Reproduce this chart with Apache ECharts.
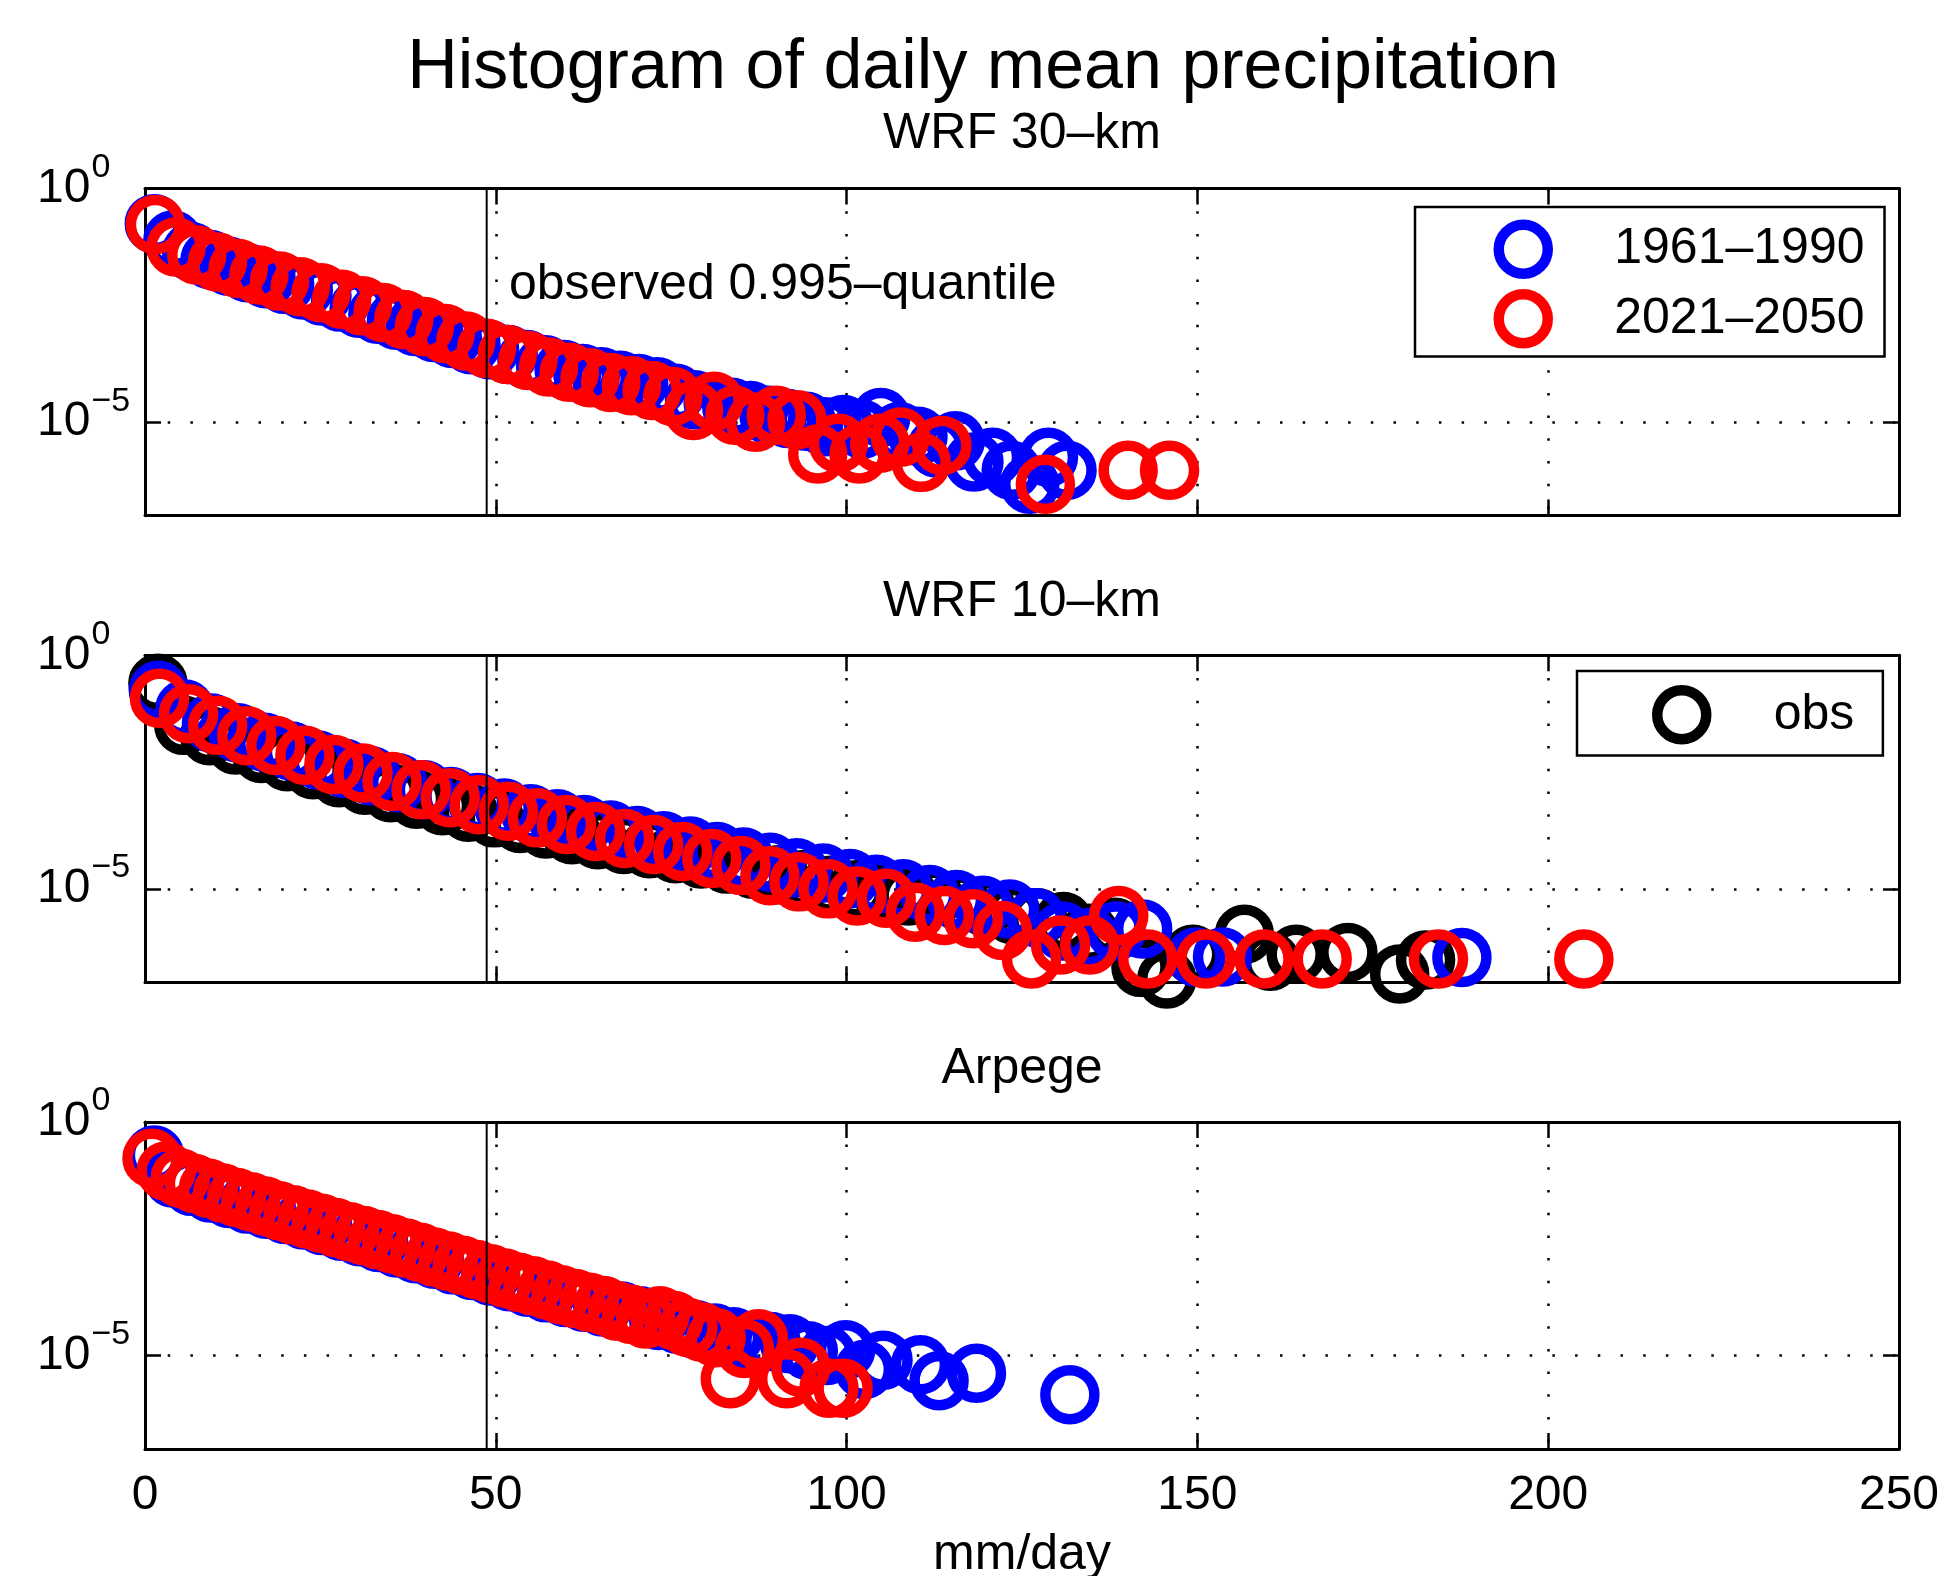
<!DOCTYPE html>
<html>
<head>
<meta charset="utf-8">
<script src="https://cdn.jsdelivr.net/npm/echarts@6/dist/echarts.min.js"></script>
<style>
html,body{margin:0;padding:0;background:#fff;}
#chart{width:1946px;height:1576px;}
</style>
</head>
<body>
<div id="chart"></div>
<script>
// ---------------- DATA ----------------
// x: bin centre (mm/day), second value: log10 of the relative frequency
const mainTitle = 'Histogram of daily mean precipitation';
const panelTitles = ['WRF 30–km', 'WRF 10–km', 'Arpege'];
const xTickValues = [0, 50, 100, 150, 200, 250];
const yTickExponents = [0, -5];
const yExponentRange = [0, -7];
const quantileLabel = 'observed 0.995–quantile';
const quantile = 48.7;
const nameHist = '1961–1990';
const nameFut = '2021–2050';
const nameObs = 'obs';
const xAxisName = 'mm/day';

const wrf30_1961 = [[1.33,-0.75],[3.98,-1.10],[6.64,-1.35],[9.29,-1.52],[11.95,-1.66],[14.60,-1.80],[17.26,-1.93],[19.91,-2.05],[22.57,-2.17],[25.22,-2.30],[27.88,-2.43],[30.53,-2.56],[33.19,-2.69],[35.84,-2.82],[38.50,-2.95],[41.15,-3.08],[43.81,-3.21],[46.46,-3.34],[49.12,-3.45],[51.77,-3.55],[54.43,-3.66],[57.08,-3.77],[59.74,-3.87],[62.39,-3.96],[65.05,-4.03],[67.70,-4.10],[70.36,-4.17],[73.01,-4.24],[75.67,-4.38],[78.32,-4.52],[80.98,-4.58],[83.63,-4.68],[86.29,-4.75],[88.94,-4.85],[91.60,-4.92],[94.25,-4.98],[96.91,-5.10],[99.56,-5.05],[102.22,-5.15],[104.87,-4.90],[107.53,-5.20],[110.18,-5.30],[112.84,-5.55],[115.49,-5.40],[118.15,-5.85],[120.80,-5.75],[123.46,-6.03],[126.11,-6.33],[128.77,-5.75],[131.42,-6.03]];
const wrf30_2021 = [[1.48,-0.77],[4.43,-1.25],[7.38,-1.42],[10.33,-1.57],[13.28,-1.71],[16.23,-1.85],[19.18,-1.98],[22.13,-2.10],[25.08,-2.23],[28.03,-2.37],[30.98,-2.51],[33.93,-2.65],[36.88,-2.80],[39.83,-2.95],[42.78,-3.10],[45.73,-3.26],[48.68,-3.42],[51.63,-3.55],[54.58,-3.68],[57.53,-3.82],[60.48,-3.93],[63.43,-4.05],[66.38,-4.15],[69.33,-4.22],[72.28,-4.32],[75.23,-4.45],[78.18,-4.75],[81.13,-4.55],[84.08,-4.85],[87.03,-5.00],[89.98,-4.85],[92.93,-4.95],[95.88,-5.68],[98.83,-5.45],[101.78,-5.68],[104.73,-5.45],[107.68,-5.32],[110.63,-5.86],[113.58,-5.50],[128.33,-6.33],[140.13,-6.03],[146.03,-6.03]];

const wrf10_obs = [[1.84,-0.60],[5.53,-1.50],[9.22,-1.72],[12.90,-1.92],[16.59,-2.10],[20.28,-2.28],[23.97,-2.45],[27.65,-2.62],[31.34,-2.78],[35.03,-2.94],[38.71,-3.08],[42.40,-3.22],[46.09,-3.36],[49.78,-3.48],[53.46,-3.60],[57.15,-3.72],[60.84,-3.84],[64.53,-3.95],[68.21,-4.05],[71.90,-4.14],[75.59,-4.25],[79.27,-4.36],[82.96,-4.47],[86.65,-4.58],[90.34,-4.70],[94.02,-4.80],[97.71,-4.92],[101.40,-5.02],[105.08,-5.10],[108.77,-5.15],[112.46,-5.18],[116.15,-5.28],[119.83,-5.40],[123.52,-5.55],[127.21,-5.62],[130.89,-5.70],[134.58,-5.95],[138.27,-5.82],[141.96,-6.68],[145.64,-6.93],[149.33,-6.40],[156.70,-5.97],[160.39,-6.55],[164.08,-6.40],[171.45,-6.36],[178.83,-6.82],[182.52,-6.52]];
const wrf10_1961 = [[1.90,-0.75],[5.69,-1.15],[9.48,-1.45],[13.27,-1.66],[17.06,-1.86],[20.86,-2.05],[24.65,-2.24],[28.44,-2.42],[32.23,-2.58],[36.02,-2.73],[39.82,-2.88],[43.61,-3.02],[47.40,-3.15],[51.19,-3.27],[54.98,-3.39],[58.78,-3.50],[62.57,-3.62],[66.36,-3.74],[70.15,-3.86],[73.94,-3.97],[77.74,-4.08],[81.53,-4.20],[85.32,-4.32],[89.11,-4.43],[92.90,-4.55],[96.70,-4.66],[100.49,-4.78],[104.28,-4.90],[108.07,-5.00],[111.86,-5.12],[115.66,-5.23],[119.45,-5.35],[123.24,-5.43],[127.03,-5.62],[130.82,-5.90],[134.62,-6.04],[138.41,-5.90],[142.20,-5.86],[149.78,-6.46],[153.58,-6.46],[187.70,-6.47]];
const wrf10_2021 = [[2.07,-0.92],[6.21,-1.25],[10.36,-1.50],[14.50,-1.72],[18.64,-1.93],[22.79,-2.14],[26.93,-2.34],[31.07,-2.52],[35.21,-2.70],[39.36,-2.88],[43.50,-3.05],[47.64,-3.20],[51.79,-3.34],[55.93,-3.48],[60.07,-3.62],[64.22,-3.77],[68.36,-3.92],[72.50,-4.05],[76.64,-4.20],[80.79,-4.35],[84.93,-4.50],[89.07,-4.72],[93.22,-4.85],[97.36,-5.00],[101.50,-5.15],[105.65,-5.20],[109.79,-5.50],[113.93,-5.57],[118.07,-5.64],[122.22,-5.89],[126.36,-6.50],[130.50,-6.20],[134.65,-6.20],[138.79,-5.57],[142.93,-6.50],[151.22,-6.50],[159.50,-6.50],[167.79,-6.50],[184.36,-6.50],[205.08,-6.50]];

const arpege_1961 = [[1.33,-0.71],[3.99,-1.20],[6.66,-1.38],[9.32,-1.52],[11.98,-1.64],[14.65,-1.76],[17.31,-1.87],[19.97,-1.98],[22.63,-2.10],[25.30,-2.22],[27.96,-2.34],[30.62,-2.46],[33.29,-2.58],[35.95,-2.70],[38.61,-2.82],[41.28,-2.94],[43.94,-3.06],[46.60,-3.18],[49.27,-3.30],[51.93,-3.42],[54.59,-3.54],[57.26,-3.66],[59.92,-3.76],[62.58,-3.86],[65.24,-3.96],[67.91,-4.05],[70.57,-4.15],[73.23,-4.25],[75.90,-4.33],[78.56,-4.45],[81.22,-4.52],[83.89,-4.60],[86.55,-4.75],[89.21,-4.70],[91.88,-4.75],[94.54,-4.90],[97.20,-5.00],[99.86,-4.88],[102.53,-5.30],[105.19,-5.10],[110.52,-5.20],[113.18,-5.54],[118.51,-5.38],[131.82,-5.84]];
const arpege_2021 = [[1.00,-0.78],[3.02,-1.05],[5.03,-1.20],[7.04,-1.32],[9.05,-1.42],[11.06,-1.52],[13.07,-1.62],[15.08,-1.71],[17.09,-1.80],[19.10,-1.90],[21.11,-1.99],[23.12,-2.08],[25.13,-2.17],[27.14,-2.26],[29.15,-2.35],[31.16,-2.43],[33.17,-2.52],[35.18,-2.61],[37.19,-2.70],[39.20,-2.79],[41.21,-2.89],[43.22,-2.98],[45.23,-3.07],[47.24,-3.16],[49.25,-3.25],[51.26,-3.34],[53.27,-3.43],[55.28,-3.51],[57.29,-3.60],[59.30,-3.70],[61.31,-3.78],[63.32,-3.86],[65.33,-3.93],[67.34,-4.05],[69.35,-4.12],[71.36,-4.22],[73.37,-4.15],[75.38,-4.25],[77.39,-4.40],[79.40,-4.50],[81.41,-4.62],[83.42,-5.50],[85.43,-4.85],[87.44,-4.64],[91.46,-5.50],[93.47,-5.25],[97.49,-5.70],[99.50,-5.70]];

// ---------------- LAYOUT / STYLE ----------------
const FONT = '"Liberation Sans", Arial, Helvetica, sans-serif';
const BLUE = '#0000ff', RED = '#ff0000', BLACK = '#000000';
const gridTops = [188.6, 655.3, 1121.9];
const gridHeight = 327;
const gridLeft = 145;
const gridRight = 47;

const panels = [
  [{name: nameHist, data: wrf30_1961, color: BLUE}, {name: nameFut, data: wrf30_2021, color: RED}],
  [{name: nameObs, data: wrf10_obs, color: BLACK}, {name: nameHist, data: wrf10_1961, color: BLUE}, {name: nameFut, data: wrf10_2021, color: RED}],
  [{name: nameHist, data: arpege_1961, color: BLUE}, {name: nameFut, data: arpege_2021, color: RED}]
];

// y axis shows decades below 1 (inverse axis), so value = -log10(p)
const yMin = -yExponentRange[0];
const yMax = -yExponentRange[1];
const yInterval = yTickExponents[0] - yTickExponents[1];

const dotted = {color: '#000', width: 2.5, type: [2.5, 20.2]};
const solidAxis = {show: true, onZero: false, lineStyle: {color: '#000', width: 3}};
const tickStyle = {show: true, inside: true, length: 16, lineStyle: {color: '#000', width: 2.5}};

const grids = [], xAxes = [], yAxes = [], series = [];
panels.forEach((panel, i) => {
  grids.push({left: gridLeft, right: gridRight, top: gridTops[i], height: gridHeight, containLabel: false, outerBoundsMode: 'none'});
  // bottom x axis (index i)
  xAxes.push({
    type: 'value', gridIndex: i, min: xTickValues[0], max: xTickValues[xTickValues.length - 1],
    interval: xTickValues[1] - xTickValues[0], position: 'bottom',
    axisLine: solidAxis, axisTick: tickStyle,
    axisLabel: {show: i === 2, fontSize: 48, fontFamily: FONT, color: '#000', margin: 23},
    splitLine: {show: true, lineStyle: dotted},
    name: i === 2 ? xAxisName : '', nameLocation: 'middle', nameGap: 81,
    nameTextStyle: {fontSize: 50, fontFamily: FONT, color: '#000'}
  });
});
panels.forEach((panel, i) => {
  // top x axis (index 3+i) for mirrored ticks/box
  xAxes.push({
    type: 'value', gridIndex: i, min: xTickValues[0], max: xTickValues[xTickValues.length - 1],
    interval: xTickValues[1] - xTickValues[0], position: 'top',
    axisLine: solidAxis, axisTick: tickStyle, axisLabel: {show: false}, splitLine: {show: false}
  });
});
panels.forEach((panel, i) => {
  yAxes.push({
    type: 'value', gridIndex: i, inverse: true, min: yMin, max: yMax, interval: yInterval, position: 'left',
    axisLine: solidAxis, axisTick: tickStyle,
    axisLabel: {
      show: true, align: 'left', margin: 108,
      formatter: function (v) {
        const e = -v;
        if (yTickExponents.indexOf(e) < 0) return '';
        return '{b|10}{s|' + (e < 0 ? '\u2212' + (-e) : String(e)) + '}';
      },
      rich: {
        b: {fontSize: 48, fontFamily: FONT, color: '#000', lineHeight: 48},
        s: {fontSize: 34, fontFamily: FONT, color: '#000', lineHeight: 34, padding: [0, 0, 42, 1]}
      }
    },
    splitLine: {show: true, lineStyle: dotted}
  });
});
panels.forEach((panel, i) => {
  yAxes.push({
    type: 'value', gridIndex: i, inverse: true, min: yMin, max: yMax, interval: yInterval, position: 'right',
    axisLine: solidAxis, axisTick: tickStyle, axisLabel: {show: false}, splitLine: {show: false}
  });
});

panels.forEach((panel, i) => {
  panel.forEach((s, k) => {
    series.push({
      type: 'scatter', name: s.name, xAxisIndex: i, yAxisIndex: i,
      data: s.data.map(d => [d[0], -d[1]]),
      symbol: 'circle', symbolSize: 49,
      itemStyle: {color: 'rgba(0,0,0,0)', borderColor: s.color, borderWidth: 10.5, opacity: 1},
      emphasis: {disabled: true}, silent: true, z: 2 + k, clip: false
    });
  });
  // observed 0.995-quantile vertical line
  series.push({
    type: 'line', name: 'quantile', xAxisIndex: i, yAxisIndex: i,
    data: [[quantile, yMin], [quantile, yMax]],
    showSymbol: false, symbol: 'none', lineStyle: {color: '#000', width: 2}, silent: true, z: 10
  });
});

const legendCommon = {
  orient: 'vertical', icon: 'circle', itemWidth: 49, itemHeight: 49, itemGap: 10,
  borderColor: '#000', borderWidth: 2.5, backgroundColor: '#fff', selectedMode: false,
  itemStyle: {borderWidth: 10.5}
};

const option = {
  animation: false,
  backgroundColor: '#fff',
  grid: grids,
  xAxis: xAxes,
  yAxis: yAxes,
  legend: [
    Object.assign({}, legendCommon, {
      data: [nameHist, nameFut], left: 1415, top: 207, padding: [12.5, 20, 8, 78.5],
      textStyle: {fontSize: 50, fontFamily: FONT, color: '#000', padding: [0, 0, 0, 61.5]}
    }),
    Object.assign({}, legendCommon, {
      data: [nameObs], left: 1577, top: 671, padding: [14, 28.5, 11, 75],
      textStyle: {fontSize: 50, fontFamily: FONT, color: '#000', padding: [0, 0, 0, 62.5]}
    })
  ],
  graphic: [
    {type: 'text', x: 983, y: 69, style: {text: mainTitle, fontSize: 70, fontFamily: FONT, fill: '#000', align: 'center', verticalAlign: 'middle'}},
    {type: 'text', x: 1022, y: 134.5, style: {text: panelTitles[0], fontSize: 50, fontFamily: FONT, fill: '#000', align: 'center', verticalAlign: 'middle'}},
    {type: 'text', x: 1022, y: 602.4, style: {text: panelTitles[1], fontSize: 50, fontFamily: FONT, fill: '#000', align: 'center', verticalAlign: 'middle'}},
    {type: 'text', x: 1022, y: 1069, style: {text: panelTitles[2], fontSize: 50, fontFamily: FONT, fill: '#000', align: 'center', verticalAlign: 'middle'}},
    {type: 'text', x: 509, y: 285, z: 20, style: {text: quantileLabel, fontSize: 50, fontFamily: FONT, fill: '#000', align: 'left', verticalAlign: 'middle'}}
  ],
  series: series
};

const chart = echarts.init(document.getElementById('chart'), null, {renderer: 'canvas'});
chart.setOption(option);
</script>
</body>
</html>
